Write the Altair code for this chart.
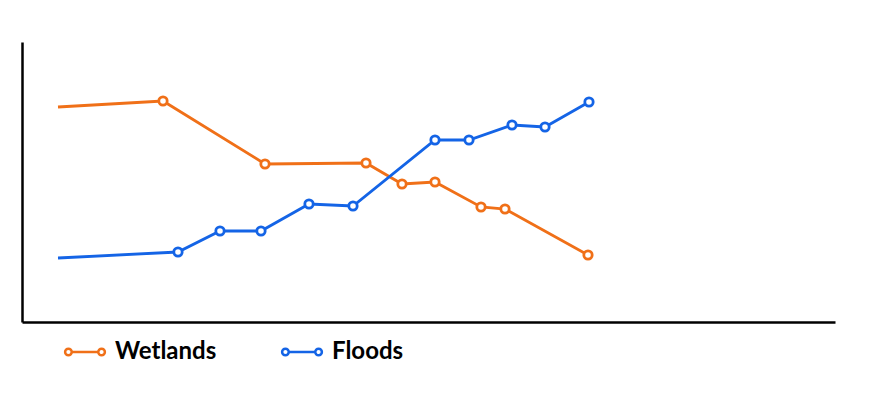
import altair as alt
import pandas as pd

wet_x = [58, 163, 265, 366, 402, 435, 481, 505, 588]
wet_y = [215, 221, 158, 159, 138, 140, 115, 113, 67]
fl_x = [58, 178, 220, 261, 309, 353, 435, 469, 512, 545, 589]
fl_y = [64, 70, 91, 91, 118, 116, 182, 182, 197, 195, 220]

rows = []
for i, (x, y) in enumerate(zip(wet_x, wet_y)):
    rows.append({"x": x, "y": y, "series": "Wetlands", "i": i})
for i, (x, y) in enumerate(zip(fl_x, fl_y)):
    rows.append({"x": x, "y": y, "series": "Floods", "i": i})
df = pd.DataFrame(rows)

dom = ["Wetlands", "Floods"]
rng = ["#f07018", "#1464e6"]

color = alt.Color("series:N", sort=dom,
                  scale=alt.Scale(domain=dom, range=rng),
                  legend=alt.Legend(title=None, orient="none", legendX=45, legendY=292,
                                    direction="horizontal", columnPadding=60,
                                    symbolType="M-0.8,0A0.2,0.2 0 1 1 -1.2,0A0.2,0.2 0 1 1 -0.8,0L0.8,0A0.2,0.2 0 1 1 1.2,0A0.2,0.2 0 1 1 0.8,0",
                                    symbolSize=1100, symbolStrokeWidth=2.5, symbolFillColor="white",
                                    labelFont="Lato", labelFontWeight="bold", labelFontSize=24,
                                    labelColor="black", symbolOffset=0, labelOffset=12))

xs = alt.X("x:Q", scale=alt.Scale(domain=[22, 835]), axis=alt.Axis(title=None, labels=False, ticks=False, grid=False, domainWidth=2.5, domainColor="black"))
ys = alt.Y("y:Q", scale=alt.Scale(domain=[0, 280]), axis=alt.Axis(title=None, labels=False, ticks=False, grid=False, domainWidth=2.5, domainColor="black"))

line = alt.Chart(df).mark_line(strokeWidth=2.8).encode(x=xs, y=ys, color=color, detail="series:N", order="i:Q")
pts = alt.Chart(df).transform_filter("datum.i > 0").mark_point(filled=True, fill="white", strokeWidth=2.8, size=70, opacity=1).encode(
    x=xs, y=ys, stroke=alt.Stroke("series:N", scale=alt.Scale(domain=dom, range=rng), legend=None))

chart = (line + pts).properties(
    width=813, height=280,
    padding={"left": 14, "top": 34, "right": 10, "bottom": 70},
    autosize="none", background="white"
).configure_view(stroke=None)
chart.save("out.html", embed_options={"renderer": "svg", "actions": False})
